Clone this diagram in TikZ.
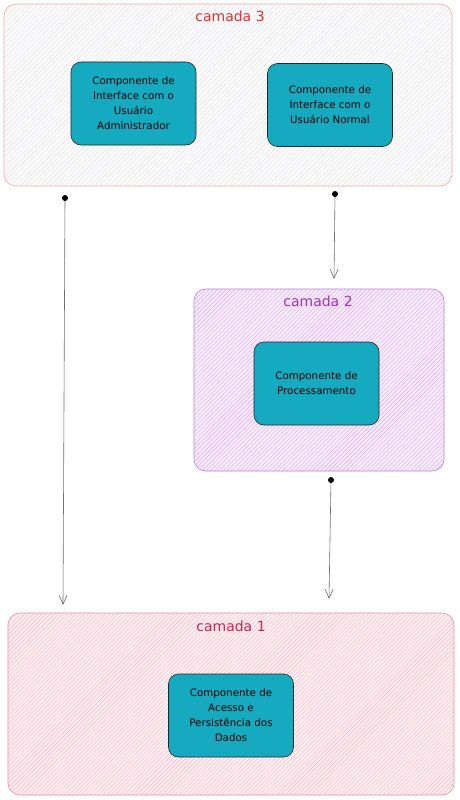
\documentclass[tikz,border=0pt]{standalone}
\usepackage{fontspec}
\setmainfont{DejaVu Sans}
\usetikzlibrary{patterns.meta,arrows.meta}
\definecolor{tealc}{HTML}{15AABF}
\definecolor{lthree}{HTML}{F2A6A6}
\definecolor{lthreefill}{HTML}{FAFAFB}
\definecolor{lthreeline}{HTML}{E4E4E8}
\definecolor{ltwo}{HTML}{B97FD0}
\definecolor{ltwofill}{HTML}{F7ECFB}
\definecolor{ltwoline}{HTML}{DDA6EE}
\definecolor{lone}{HTML}{E58BA4}
\definecolor{lonefill}{HTML}{FCEEF1}
\definecolor{loneline}{HTML}{F4B3C1}
\definecolor{tthree}{HTML}{E03131}
\definecolor{ttwo}{HTML}{9C36B5}
\definecolor{tone}{HTML}{C2255C}
\definecolor{arrowc}{HTML}{6E6E6E}
\begin{document}
\begin{tikzpicture}[x=1pt,y=-1pt,
  layer/.style={draw=#1, line width=0.6pt, rounded corners=12pt, inner sep=0pt},
  comp/.style={draw=black!85, fill=tealc, line width=0.6pt, rounded corners=10pt,
    minimum width=125pt, minimum height=83pt, align=center, font=\fontsize{10.3}{15}\selectfont, inner sep=1pt},
  ttl/.style={font=\fontsize{14}{16}\selectfont},
  conn/.style={draw=arrowc, line width=0.6pt, -{Straight Barb[length=9pt,width=8pt]}},
  dotc/.style={fill=black, circle, inner sep=0pt, minimum size=6pt}]
\useasboundingbox (0,0) rectangle (459,800);
\fill[white] (0,0) rectangle (459,800);
% layer 3
\node[layer=lthree, fill=lthreefill, minimum width=448pt, minimum height=182pt,
  postaction={pattern={Lines[angle=45,distance=3.5pt,line width=0.4pt]}, pattern color=lthreeline}]
  (l3) at (228,95) {};
% layer 2
\node[layer=ltwo, fill=ltwofill, minimum width=250pt, minimum height=182pt,
  postaction={pattern={Lines[angle=45,distance=3pt,line width=0.4pt]}, pattern color=ltwoline}]
  (l2) at (319,380) {};
% layer 1
\node[layer=lone, fill=lonefill, minimum width=446pt, minimum height=182pt,
  postaction={pattern={Lines[angle=45,distance=3pt,line width=0.4pt]}, pattern color=loneline}]
  (l1) at (231,704) {};
% titles
\node[ttl, text=tthree] (t3) at (230,16) {camada 3};
\node[ttl, text=ttwo] (t2) at (318,301) {camada 2};
\node[ttl, text=tone] (t1) at (231,626) {camada 1};
% components
\node[comp] (ca) at (133.5,103.5) {Componente de\\Interface com o\\Usuário\\Administrador};
\node[comp] (cb) at (330,105) {Componente de\\Interface com o\\Usuário Normal};
\node[comp] (cc) at (316.5,383.5) {Componente de\\Processamento};
\node[comp] (cd) at (231,715.5) {Componente de\\Acesso e\\Persistência dos\\Dados};
% connectors
\coordinate (s1) at (65,198);
\coordinate (e1) at (63,605);
\coordinate (s2) at (335,194);
\coordinate (e2) at (334,279);
\coordinate (s3) at (331,480);
\coordinate (e3) at (329,599);
\draw[conn] (s1) -- (e1);
\draw[conn] (s2) -- (e2);
\draw[conn] (s3) -- (e3);
\node[dotc] (d1) at (s1) {};
\node[dotc] (d2) at (s2) {};
\node[dotc] (d3) at (s3) {};
\end{tikzpicture}
\end{document}
